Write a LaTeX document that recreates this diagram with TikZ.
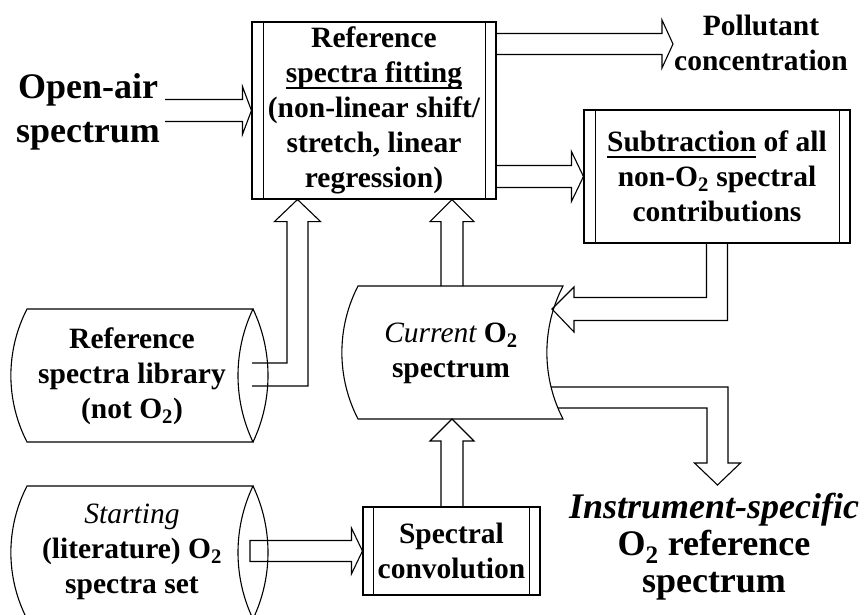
\documentclass[tikz,border=0pt]{standalone}
\usepackage{fontspec}
\setmainfont{Liberation Serif}
\usetikzlibrary{calc}

% thick underline that sits just below the descenders
\newsavebox\ulbox
\newcommand\ulined[1]{\sbox\ulbox{#1}\rlap{\rule[-6.5pt]{\wd\ulbox}{1.8pt}}\usebox\ulbox}

% straight block arrow pointing right: tail, tip, shaft half-width, head half-width, head length, path end
\newcommand\harrow[6]{%
  \draw ($(#1|-#2)+(0,-#3)$) -- ($(#2)+(-#5,-#3)$) -- ($(#2)+(-#5,-#4)$) -- (#2)
    -- ($(#2)+(-#5,#4)$) -- ($(#2)+(-#5,#3)$) -- ($(#1|-#2)+(0,#3)$) #6;}

% straight block arrow pointing up: tail, tip, shaft half-width, head half-width, head length
\newcommand\uarrow[5]{%
  \draw ($(#2|-#1)+(-#3,0)$) -- ($(#2)+(-#3,#5)$) -- ($(#2)+(-#4,#5)$) -- (#2)
    -- ($(#2)+(#4,#5)$) -- ($(#2)+(#3,#5)$) -- ($(#2|-#1)+(#3,0)$);}

\tikzset{
  pics/drum/.style={code={
    \draw (-113,-66.5) -- (113,-66.5) .. controls (93,-24.5) and (93,24.5) .. (113,66.5)
      -- (-113,66.5) .. controls (-134.5,24.5) and (-134.5,-24.5) .. (-113,-66.5) -- cycle;
    \draw (113,-66.5) .. controls (133,-24.5) and (133,24.5) .. (113,66.5);}},
  pics/storeddata/.style={code={
    \draw (-102.5,-66.5) -- (102.5,-66.5) .. controls (81,-24.7) and (81,24.7) .. (102.5,66.5)
      -- (-102.5,66.5) .. controls (-124,24.7) and (-124,-24.7) .. (-102.5,-66.5) -- cycle;}}
}

\begin{document}
\begin{tikzpicture}[x=1pt,y=-1pt,line width=1.1pt,line join=miter,
  boxtext/.style={font=\bfseries\fontsize{29.5}{35}\selectfont,align=center},
  bigtext/.style={font=\bfseries\fontsize{36}{44}\selectfont,align=center},
  procbox/.style={draw,inner sep=0pt}]

\useasboundingbox[fill=white] (0,0) rectangle (868,615);

% process boxes with doubled side edges
\node[procbox,boxtext,minimum width=244pt,minimum height=177pt] (fit) at (374,110.5)
  {Reference\\\ulined{spectra fitting}\\(non-linear shift/\\stretch, linear\\regression)};
\draw ($(fit.north west)+(12,0)$) -- ($(fit.south west)+(12,0)$);
\draw ($(fit.north east)+(-11,0)$) -- ($(fit.south east)+(-11,0)$);

\node[procbox,boxtext,minimum width=266pt,minimum height=133pt] (sub) at (717,176.5)
  {\ulined{Subtraction} of all\\non-O\textsubscript{2} spectral\\contributions};
\draw ($(sub.north west)+(12,0)$) -- ($(sub.south west)+(12,0)$);
\draw ($(sub.north east)+(-11,0)$) -- ($(sub.south east)+(-11,0)$);

\node[procbox,boxtext,minimum width=177pt,minimum height=88pt] (conv) at (451.5,551)
  {Spectral\\convolution};
\draw ($(conv.north west)+(11,0)$) -- ($(conv.south west)+(11,0)$);
\draw ($(conv.north east)+(-11,0)$) -- ($(conv.south east)+(-11,0)$);

% storage shapes
\pic at (140,375.5) {drum};
\pic at (140,552.5) {drum};
\pic at (460.5,352.5) {storeddata};

% labels
\node[bigtext] (openair) at (88,112) {Open-air\\spectrum};
\node[boxtext] (pollutant) at (761,42.5) {Pollutant\\concentration};
\node[boxtext] (library) at (132,376.5) {Reference\\spectra library\\(not O\textsubscript{2})};
\node[boxtext] (starting) at (132,552) {{\mdseries\itshape Starting}\\(literature) O\textsubscript{2}\\spectra set};
\node[boxtext] (current) at (451,353.5) {{\mdseries\itshape Current} O\textsubscript{2}\\spectrum};
\node[bigtext,font=\bfseries\fontsize{36}{37}\selectfont] (instr) at (714,547)
  {{\itshape Instrument-specific}\\O\textsubscript{2} reference\\spectrum};

% connector end points
\coordinate (oaTail) at (165,110.5);
\coordinate (polTip) at (673,44);
\coordinate (stTail) at (250,551.5);
\coordinate (curTop) at (452,286);
\coordinate (curBot) at (452,419);
\coordinate (fitIn2) at (curTop |- fit.south);
\coordinate (libOut) at (252,374.5);
\coordinate (fitIn1) at (297.5,0 |- fit.south);
\coordinate (curIn) at (552,309);
\coordinate (curOut1) at (551,387);
\coordinate (curOut2) at (558,408);
\coordinate (instrIn) at (717.5,485);

% straight block arrows
\harrow{oaTail}{fit.west}{11}{24}{9}{}
\harrow{fit.east}{polTip}{10.5}{24}{11}{}
\harrow{fit.east}{sub.west}{11}{25}{12}{}
\harrow{stTail}{conv.west}{10.5}{23}{11}{-- cycle}
\uarrow{conv.north}{curBot}{11}{22}{22}
\uarrow{curTop}{fitIn2}{11}{22}{22}

% elbow block arrows
\draw ($(libOut)+(0,-11.5)$) -| ($(fitIn1)+(-10.5,22)$) -- ($(fitIn1)+(-23,22)$) -- (fitIn1)
  -- ($(fitIn1)+(23,22)$) -- ($(fitIn1)+(10.5,22)$) |- ($(libOut)+(0,11.5)$);
\draw ($(sub.south)+(-10.5,0)$) |- ($(curIn)+(22,-11.5)$) -- ($(curIn)+(22,-22)$) -- (curIn)
  -- ($(curIn)+(22,23)$) -- ($(curIn)+(22,11.5)$) -| ($(sub.south)+(10.5,0)$);
\draw (curOut1) -| ($(instrIn)+(10.5,-22)$) -- ($(instrIn)+(23,-22)$) -- (instrIn)
  -- ($(instrIn)+(-23,-22)$) -- ($(instrIn)+(-10.5,-22)$) |- (curOut2);

\end{tikzpicture}
\end{document}
